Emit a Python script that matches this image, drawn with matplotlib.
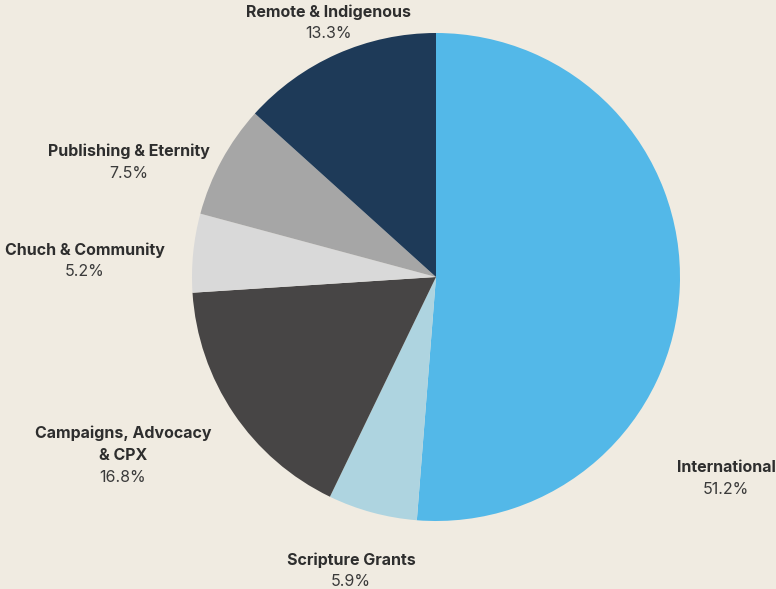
import matplotlib.pyplot as plt

plt.rcParams['font.family'] = ['Inter', 'DejaVu Sans']

categories = ['International', 'Scripture Grants', 'Campaigns, Advocacy\n& CPX',
              'Chuch & Community', 'Publishing & Eternity', 'Remote & Indigenous']
shares = [51.2, 5.9, 16.8, 5.2, 7.5, 13.3]
colors = ['#53b8e8', '#aed4e0', '#474545', '#d9d9d9', '#a6a6a6', '#1e3a58']

# label anchor points in pixels (x, y of top line) - hand placed like the original
label_pos = [(726, 467), (351, 560), (123, 433), (85, 250), (129, 151), (328, 12)]

W, H = 776, 589
bg = '#f0ebe1'
fig = plt.figure(figsize=(W / 100, H / 100), dpi=100, facecolor=bg)
ax = fig.add_axes([0, 0, 1, 1])
ax.set_facecolor(bg)

ax.pie(shares, colors=colors, startangle=90, counterclock=False,
       center=(436, H - 277), radius=244, frame=True,
       wedgeprops=dict(linewidth=0))
ax.set_xlim(0, W)
ax.set_ylim(0, H)
ax.axis('off')

line_h = 22
for name, val, (x, y) in zip(categories, shares, label_pos):
    lines = name.split('\n')
    for i, ln in enumerate(lines):
        ax.text(x, H - (y + line_h * i), ln, ha='center', va='center',
                fontsize=11.5, fontweight='bold', color='#2e2e2e')
    ax.text(x, H - (y + line_h * len(lines)), f'{val}%', ha='center', va='center',
            fontsize=11.5, color='#3a3a3a')

fig.savefig('out.png', dpi=100, facecolor=bg)
